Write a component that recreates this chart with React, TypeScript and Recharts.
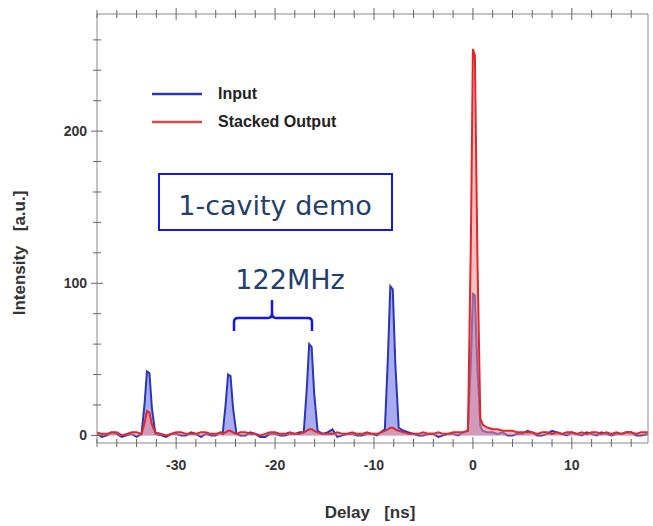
import React from 'react';
import { ComposedChart, Area, XAxis, YAxis, Legend } from 'recharts';

// delay in ns, intensities in a.u.
const delay = [
  -38, -37.5, -37, -36.5, -36, -35.5, -35, -34.5, -34, -33.5, -33.2, -32.95, -32.7, -32.45, -32.1, -31.5, -31, -30.5, -30, -29.5,
  -29, -28.5, -28, -27.5, -27, -26.5, -26, -25.5,
  -25.3, -25.0, -24.75, -24.5, -24.25, -23.9, -23.5, -23, -22.5, -22, -21.5, -21, -20.5, -20, -19.5, -19, -18.5, -18, -17.5,
  -17.1, -16.8, -16.55, -16.3, -16.05, -15.7, -15.2, -14.7, -14.2, -13.7, -13.2, -12.7, -12.2, -11.7, -11.2, -10.7, -10.2, -9.7, -9.3,
  -8.9, -8.6, -8.35, -8.1, -7.85, -7.5, -7, -6.5, -6, -5.5, -5, -4.5, -4, -3.5, -3, -2.5, -2, -1.5, -1,
  -0.5, -0.2, 0, 0.2, 0.45, 0.75, 1, 1.5, 2, 2.5, 3, 3.5, 4, 4.5, 5, 5.5, 6, 6.5, 7, 7.5, 8, 8.5, 9, 9.5,
  10, 10.5, 11, 11.5, 12, 12.5, 13, 13.5, 14, 14.5, 15, 15.5, 16, 16.5, 17, 17.7,
];
const input = [
  1, -1, 0, 2, 1, -1, 0, 1, -1, 1, 20, 42, 41, 18, 1, 0, -1, 1, 1, 0,
  0, 2, 1, -1, 1, 0, 0, 2,
  1, 20, 40, 39, 18, 1, 0, 0, 2, 1, -1, -1, 1, 1, 0, 0, 1, 1, 2,
  2, 30, 60, 58, 28, 3, 1, 2, 4, -1, 0, 1, 1, 0, 0, 1, 1, 0, 2,
  4, 50, 98, 96, 48, 5, 3, 2, 1, 0, 0, 1, 1, -1, 0, 1, 1, 0, 2,
  3, 50, 93, 92, 45, 6, 3, 2, 2, 1, 2, 0, 0, 1, 1, 3, 2, 0, 0, 1, 3, 2, 1, 0,
  2, 1, 0, 2, 1, 0, 2, 1, 0, 1, 1, 2, 2, 0, 0, 1,
];
const output = [
  2, 1, 1, 2, 2, 0, 1, 2, 2, 1, 8, 16, 15, 7, 2, 1, 0, 1, 2, 2,
  1, 1, 1, 2, 2, 1, 1, 2,
  1, 2, 3, 3, 2, 1, 2, 2, 1, 1, 0, 1, 2, 2, 1, 1, 2, 1, 1,
  2, 3, 4, 4, 3, 2, 1, 1, 1, 2, 1, 1, 2, 1, 1, 2, 1, 1, 2,
  3, 4, 5, 5, 4, 3, 2, 1, 1, 1, 2, 1, 1, 2, 1, 1, 2, 2, 2,
  3, 130, 254, 250, 120, 11, 7, 5, 4, 4, 3, 3, 3, 2, 2, 2, 2, 1, 2, 2, 1, 2, 1, 2,
  2, 1, 2, 1, 2, 2, 1, 2, 1, 2, 1, 2, 2, 1, 2, 2,
];

const xTicks = [-38, -36, -34, -32, -30, -28, -26, -24, -22, -20, -18, -16, -14, -12, -10, -8, -6, -4, -2, 0, 2, 4, 6, 8, 10, 12, 14, 16];
const xLabels = [-30, -20, -10, 0, 10];
const yTicks = [0, 20, 40, 60, 80, 100, 120, 140, 160, 180, 200, 220, 240, 260];
const yLabels = [0, 100, 200];

const data = delay.map((d, i) => ({ delay: d, input: input[i], output: output[i] }));

const TICK_FONT = { fontFamily: '"Liberation Sans", Arial, sans-serif', fontWeight: 700, fontSize: 14, fill: '#333' };
const AXIS_COLOR = '#888';
const NOTE_FONT = { fontFamily: '"DejaVu Sans", sans-serif', fontSize: 27, fill: '#1f3f6e' };

const BottomTick = (props: any) => {
  const { x, y, payload } = props;
  const major = xLabels.includes(payload.value);
  return (
    <g>
      <line x1={x} x2={x} y1={y - (major ? 6 : 4)} y2={y + (major ? 6 : 4)} stroke="#666" strokeWidth={1} />
      {major && (
        <text x={x} y={y + 27} textAnchor="middle" {...TICK_FONT}>
          {payload.value}
        </text>
      )}
    </g>
  );
};

const TopTick = (props: any) => {
  const { x, y, payload } = props;
  const major = xLabels.includes(payload.value);
  return <line x1={x} x2={x} y1={y - (major ? 6 : 4)} y2={y + (major ? 6 : 4)} stroke="#666" strokeWidth={1} />;
};

const LeftTick = (props: any) => {
  const { x, y, payload } = props;
  const major = yLabels.includes(payload.value);
  return (
    <g>
      <line x1={x - (major ? 6 : 4)} x2={x + (major ? 6 : 4)} y1={y} y2={y} stroke="#666" strokeWidth={1} />
      {major && (
        <text x={x - 10} y={y + 5} textAnchor="end" {...TICK_FONT}>
          {payload.value}
        </text>
      )}
    </g>
  );
};

const LegendContent = () => (
  <div style={{ fontFamily: '"Liberation Sans", Arial, sans-serif', fontWeight: 700, fontSize: 16, color: '#222' }}>
    {[
      { name: 'Input', color: '#2b35b8' },
      { name: 'Stacked Output', color: '#d9484a' },
    ].map((s) => (
      <div key={s.name} style={{ display: 'flex', alignItems: 'center', height: 28 }}>
        <svg width={66} height={10}>
          <line x1={0} x2={50} y1={5} y2={5} stroke={s.color} strokeWidth={2.5} />
        </svg>
        <span>{s.name}</span>
      </div>
    ))}
  </div>
);

export default function App() {
  return (
    <div style={{ position: 'absolute', left: 0, top: 0, width: 653, height: 526, background: '#fff' }}>
      <ComposedChart width={653} height={526} data={data} margin={{ top: 13, right: 4, bottom: 23, left: 37 }}>
        <XAxis
          dataKey="delay"
          type="number"
          domain={[-38, 17.7]}
          ticks={xTicks}
          allowDataOverflow
          tick={<BottomTick />}
          tickLine={false}
          tickSize={0}
          tickMargin={0}
          height={60}
          stroke={AXIS_COLOR}
          interval={0}
        />
        <XAxis
          xAxisId="top"
          orientation="top"
          dataKey="delay"
          type="number"
          domain={[-38, 17.7]}
          ticks={xTicks}
          allowDataOverflow
          tick={<TopTick />}
          tickLine={false}
          tickSize={0}
          tickMargin={0}
          height={1}
          stroke={AXIS_COLOR}
          interval={0}
        />
        <YAxis
          type="number"
          domain={[-5, 277]}
          ticks={yTicks}
          allowDataOverflow
          tick={<LeftTick />}
          tickLine={false}
          tickSize={0}
          tickMargin={0}
          width={60}
          stroke={AXIS_COLOR}
          interval={0}
        />
        <YAxis yAxisId="right" orientation="right" domain={[-5, 277]} tick={false} tickLine={false} width={1} stroke={AXIS_COLOR} />
        <Legend
          verticalAlign="middle"
          align="center"
          layout="vertical"
          wrapperStyle={{ left: 152, top: 80, width: 240 }}
          content={<LegendContent />}
        />
        <Area
          type="linear"
          dataKey="input"
          name="Input"
          stroke="#2b35b8"
          strokeWidth={2}
          fill="#8c92ea"
          fillOpacity={0.75}
          baseValue={0}
          isAnimationActive={false}
          dot={false}
          activeDot={false}
        />
        <Area
          type="linear"
          dataKey="output"
          name="Stacked Output"
          stroke="#e0282c"
          strokeWidth={2}
          fill="#f08a8a"
          fillOpacity={0.55}
          baseValue={0}
          isAnimationActive={false}
          dot={false}
          activeDot={false}
        />
      </ComposedChart>
      <svg width={653} height={526} style={{ position: 'absolute', left: 0, top: 0, pointerEvents: 'none' }}>
        <text
          transform="translate(25,253) rotate(-90)"
          textAnchor="middle"
          style={{ fontFamily: '"Liberation Sans", Arial, sans-serif', fontWeight: 700, fontSize: 17, fill: '#333', whiteSpace: 'pre' }}
        >
          {'Intensity   [a.u.]'}
        </text>
        <text
          x={370}
          y={518}
          textAnchor="middle"
          style={{ fontFamily: '"Liberation Sans", Arial, sans-serif', fontWeight: 700, fontSize: 17, fill: '#333', whiteSpace: 'pre' }}
        >
          {'Delay   [ns]'}
        </text>
        <rect x={159} y={174} width={233} height={56} fill="#fff" stroke="#1616e6" strokeWidth={2} />
        <text x={275} y={215} textAnchor="middle" style={NOTE_FONT}>
          1-cavity demo
        </text>
        <text x={290} y={289} textAnchor="middle" style={NOTE_FONT}>
          122MHz
        </text>
        <path
          d="M234,331 L234,322 Q234,318 238,318 L268,318 Q272,318 272,313 L272,300 M272,313 Q272,318 276,318 L308,318 Q312,318 312,322 L312,331"
          fill="none"
          stroke="#1616e6"
          strokeWidth={2.5}
        />
      </svg>
    </div>
  );
}
